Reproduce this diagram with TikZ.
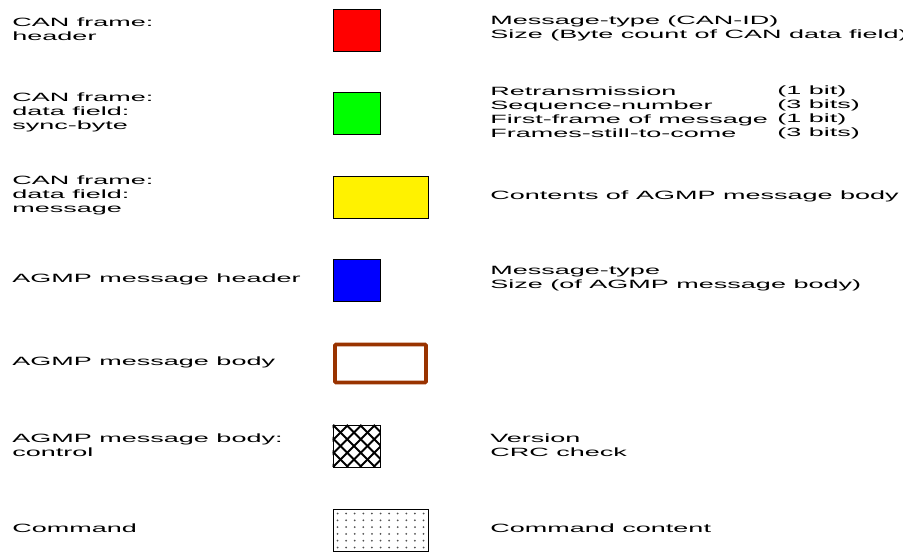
\documentclass[tikz,border=0pt]{standalone}
\usepackage{fontspec}
\setmainfont{Liberation Sans}
\usetikzlibrary{positioning}
\definecolor{bodybrown}{HTML}{993300}
\definecolor{dotgrey}{HTML}{505050}
\tikzstyle{legend}=[anchor=west, align=left, inner sep=0pt, xscale=2.25,
  font=\fontsize{12}{14}\selectfont]
\tikzstyle{swatch}=[draw=black, line width=0.9pt, inner sep=0pt,
  minimum height=42]
\tikzstyle{sq}=[swatch, minimum width=47]
\tikzstyle{wide}=[swatch, minimum width=95]

\begin{document}
\begin{tikzpicture}[x=1pt,y=-1pt]
\useasboundingbox (0,0) rectangle (903,556);
% left column: what each swatch stands for
\node[legend] (hdrlbl) at (12,29) {CAN frame:\\header};
\node[legend] (synclbl) at (12,112) {CAN frame:\\data field:\\sync-byte};
\node[legend] (msglbl) at (12,195) {CAN frame:\\data field:\\message};
\node[legend] (agmphdrlbl) at (12,279) {AGMP message header};
\node[legend] (agmpbodylbl) at (12,362) {AGMP message body};
\node[legend] (ctllbl) at (12,445) {AGMP message body:\\control};
\node[legend] (cmdlbl) at (12,528) {Command};
% swatches
\node[sq, fill=red] (hdrbox) at (356.5,30) {};
\node[sq, fill=green] (syncbox) at (356.5,113) {};
\node[wide, fill=yellow] (msgbox) at (380.5,197) {};
\node[sq, fill=blue] (agmphdrbox) at (356.5,280) {};
\node[swatch, draw=bodybrown, line width=3.6pt, rounded corners=1pt,
  minimum width=91, minimum height=38] (agmpbodybox) at (380.5,363.5) {};
\node[sq] (ctlbox) at (356.5,446) {};
\node[wide] (cmdbox) at (380.5,530) {};
% cross hatch
\begin{scope}
  \clip (ctlbox.south west) rectangle (ctlbox.north east);
  \foreach \i in {-4,...,4} {
    \draw[line width=1.8pt] (333+13.5*\i,425) -- ++(42,42);
    \draw[line width=1.8pt] (333+13.5*\i,467) -- ++(42,-42);
  }
\end{scope}
\node[sq] at (ctlbox) {};
% dots
\foreach \c in {0,...,10}
  \foreach \r in {0,...,5}
    \fill[dotgrey] (337.5+8.6*\c,513.5+6.8*\r) circle (1.0);
% right column: contents
\node[legend] (hdrdesc) at (490,28) {Message-type (CAN-ID)\\Size (Byte count of CAN data field)};
\node[legend] (syncdesc) at (490,112) {Retransmission\\Sequence-number\\First-frame of message\\Frames-still-to-come};
\node[legend] (syncbits) at (777,112) {(1 bit)\\(3 bits)\\(1 bit)\\(3 bits)};
\node[legend] (msgdesc) at (490,196) {Contents of AGMP message body};
\node[legend] (agmphdrdesc) at (490,279) {Message-type\\Size (of AGMP message body)};
\node[legend] (ctldesc) at (490,445) {Version\\CRC check};
\node[legend] (cmddesc) at (490,528) {Command content};
\end{tikzpicture}
\end{document}
